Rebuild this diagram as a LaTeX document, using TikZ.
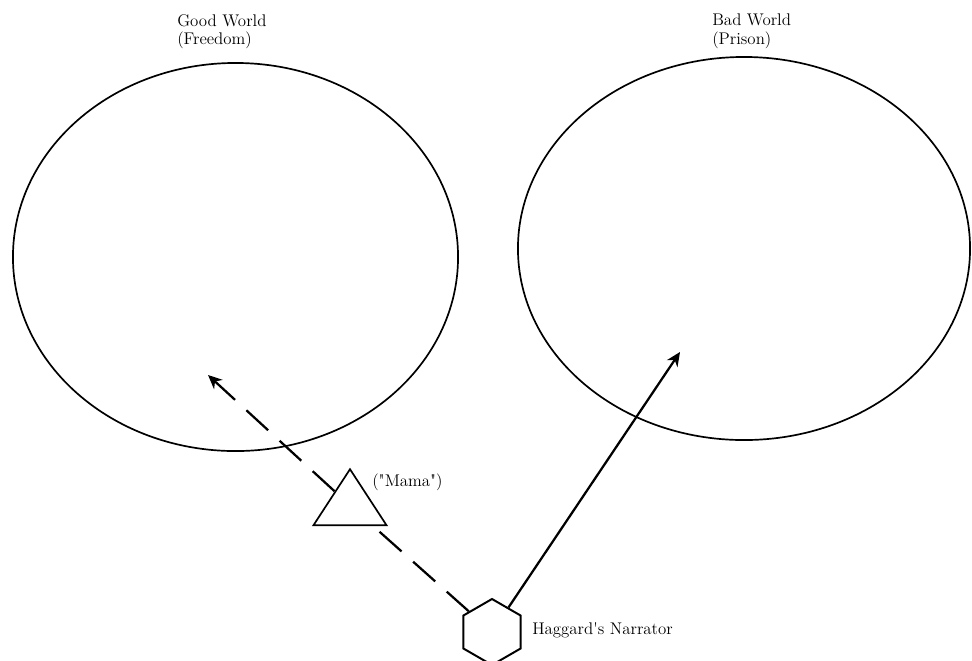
\documentclass[tikz,border=0pt]{standalone}
\usepackage{fontspec}
\usepackage{tikz}
\usetikzlibrary{arrows.meta,shapes.geometric}

\begin{document}
\begin{tikzpicture}[x=0.025cm,y=-0.025cm,font=\fontsize{12}{13}\selectfont,>={Stealth[length=10pt,width=9pt]},
    world/.style={draw,ellipse,line width=1.2pt,inner sep=0pt},
    label/.style={inner sep=0pt,align=left},
    link/.style={line width=1.6pt}]
    \useasboundingbox (0,0) rectangle (972,660);
    % the two worlds
    \node[world,minimum width=11.125cm,minimum height=9.7cm] (good) at (235.5,257) {};
    \node[world,minimum width=11.3cm,minimum height=9.575cm] (bad) at (744,248.5) {};
    \node[label,anchor=north west] (goodlabel) at (177,14) {Good World\\(Freedom)};
    \node[label,anchor=north west] (badlabel) at (712,14) {Bad World\\(Prison)};
    % characters
    \node[draw,line width=1.2pt,isosceles triangle,isosceles triangle stretches,shape border rotate=90,
          minimum width=1.825cm,minimum height=1.4cm,inner sep=0pt,anchor=apex] (mama) at (350,467) {};
    \node[label,anchor=west] (mamalabel) at (372,482) {(\textquotedbl Mama\textquotedbl)};
    \node[draw,line width=1.4pt,regular polygon,regular polygon sides=6,regular polygon rotate=30,
          minimum size=1.65cm,inner sep=0pt] (narrator) at (492,632) {};
    \node[label,anchor=west] (narratorlabel) at (532,630) {Haggard\textquotesingle s Narrator};
    \coordinate (goodend) at (208,375);
    \coordinate (badend) at (680,352);
    % paths
    \draw[link,dash pattern=on 21pt off 11pt] (narrator) -- (mama);
    \draw[link,dash pattern=on 21pt off 11pt,->] (mama) -- (goodend);
    \draw[link,->] (narrator) -- (badend);
\end{tikzpicture}
\end{document}
